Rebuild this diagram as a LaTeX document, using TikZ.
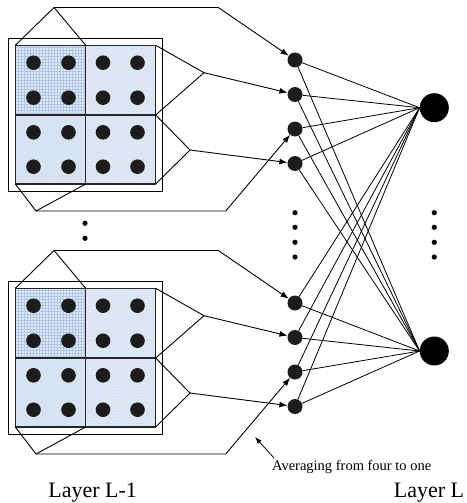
\documentclass[tikz,border=0pt]{standalone}
\usepackage{fontspec}
\setmainfont{Liberation Serif}
\usetikzlibrary{arrows.meta,patterns}
\definecolor{cellblue}{RGB}{224,233,246}
\definecolor{patblue}{RGB}{176,198,232}
\definecolor{dotgray}{RGB}{28,28,28}
\tikzset{
  conn/.style={line width=0.9pt},
  arr/.style={line width=0.9pt,-{Latex[length=8pt,width=6pt]}},
  smallarr/.style={line width=0.8pt,-{Latex[length=7pt,width=5pt]}},
  web/.style={line width=0.8pt},
  mid/.style={circle,fill=dotgray,inner sep=0pt,minimum size=15pt},
  big/.style={circle,fill=black,inner sep=0pt,minimum size=29pt},
  gridline/.style={line width=1.1pt,draw=black!85},
  frame/.style={line width=0.7pt},
  lbl/.style={font=\fontsize{22}{24}\selectfont,anchor=base,inner sep=0pt},
  note/.style={font=\fontsize{14.5}{16}\selectfont,anchor=base,inner sep=0pt},
}
\begin{document}
\begin{tikzpicture}[x=1pt,y=-1pt]
\useasboundingbox (0,0) rectangle (466,503);
\foreach \g/\dy in {1/0,2/243}{
\begin{scope}[shift={(0,\dy)}]
  \coordinate (gtl\g) at (15.3,45.3);
  \coordinate (gtm\g) at (85.7,45.3);
  \coordinate (gtr\g) at (155.7,45.3);
  \coordinate (gmr\g) at (155.7,115);
  \coordinate (gbr\g) at (155.7,184);
  \coordinate (gbm\g) at (85.7,184);
  \coordinate (gbl\g) at (15.3,184);
  \draw[frame] (8.3,38.3) rectangle (162,191.7);
  \fill[cellblue] (gtl\g) rectangle (gbr\g);
  \fill[pattern=grid,pattern color=patblue] (gtl\g) rectangle (85.7,115);
  \fill[pattern=north east lines,pattern color=patblue!70] (15.3,115) rectangle (gbm\g);
  \fill[pattern=crosshatch dots,pattern color=patblue!70] (gtm\g) rectangle (gmr\g);
  \fill[pattern=crosshatch dots,pattern color=patblue!70] (85.7,115) rectangle (gbr\g);
  \draw[gridline] (gtl\g) rectangle (gbr\g) (gtm\g) -- (gbm\g) (15.3,115) -- (gmr\g);
  \foreach \x in {33.5,68.5,103,137.5}
    \foreach \y in {62.7,97.7,132.3,166.7}
      \fill[dotgray] (\x,\y) circle[radius=7.3pt];
  \node[mid] (m\g1) at (295,60) {};
  \node[mid] (m\g2) at (295,94.5) {};
  \node[mid] (m\g3) at (295,129) {};
  \node[mid] (m\g4) at (295,163.5) {};
  \coordinate (t\g) at (54,7.5);
  \coordinate (th\g) at (218.3,7.5);
  \coordinate (r\g) at (204,72.7);
  \coordinate (s\g) at (190,150);
  \coordinate (b\g) at (36,211);
  \coordinate (bh\g) at (225.7,211);
  \draw[conn] (gtl\g) -- (t\g) -- (gtm\g);
  \draw[arr] (t\g) -- (th\g) -- (m\g1);
  \draw[conn] (gtr\g) -- (r\g) -- (gmr\g);
  \draw[arr] (r\g) -- (m\g2);
  \draw[conn] (gmr\g) -- (s\g) -- (gbr\g);
  \draw[arr] (s\g) -- (m\g4);
  \draw[conn] (gbl\g) -- (b\g) -- (gbm\g);
  \draw[arr] (b\g) -- (bh\g) -- (m\g3);
\end{scope}}
\node[big] (B1) at (434.3,107.7) {};
\node[big] (B2) at (434.3,351) {};
\foreach \g in {1,2}
  \foreach \i in {1,2,3,4}
    \foreach \b in {1,2}
      \draw[web] (m\g\i) -- (B\b.west);
\foreach \y in {212.7,227.3,242.3,257}{
  \fill (295,\y) circle[radius=2.6pt];
  \fill (434.3,\y) circle[radius=2.6pt];
}
\fill (85,223.3) circle[radius=2.6pt];
\fill (85,238.3) circle[radius=2.6pt];
\coordinate (ntail) at (274,458);
\coordinate (ntip) at (255,437);
\draw[smallarr] (ntail) -- (ntip);
\node[note] (avg) at (351.7,470) {Averaging from four to one};
\node[lbl] (lay1) at (92.7,497.5) {Layer L-1};
\node[lbl] (lay2) at (429,497.5) {Layer L};
\end{tikzpicture}
\end{document}
